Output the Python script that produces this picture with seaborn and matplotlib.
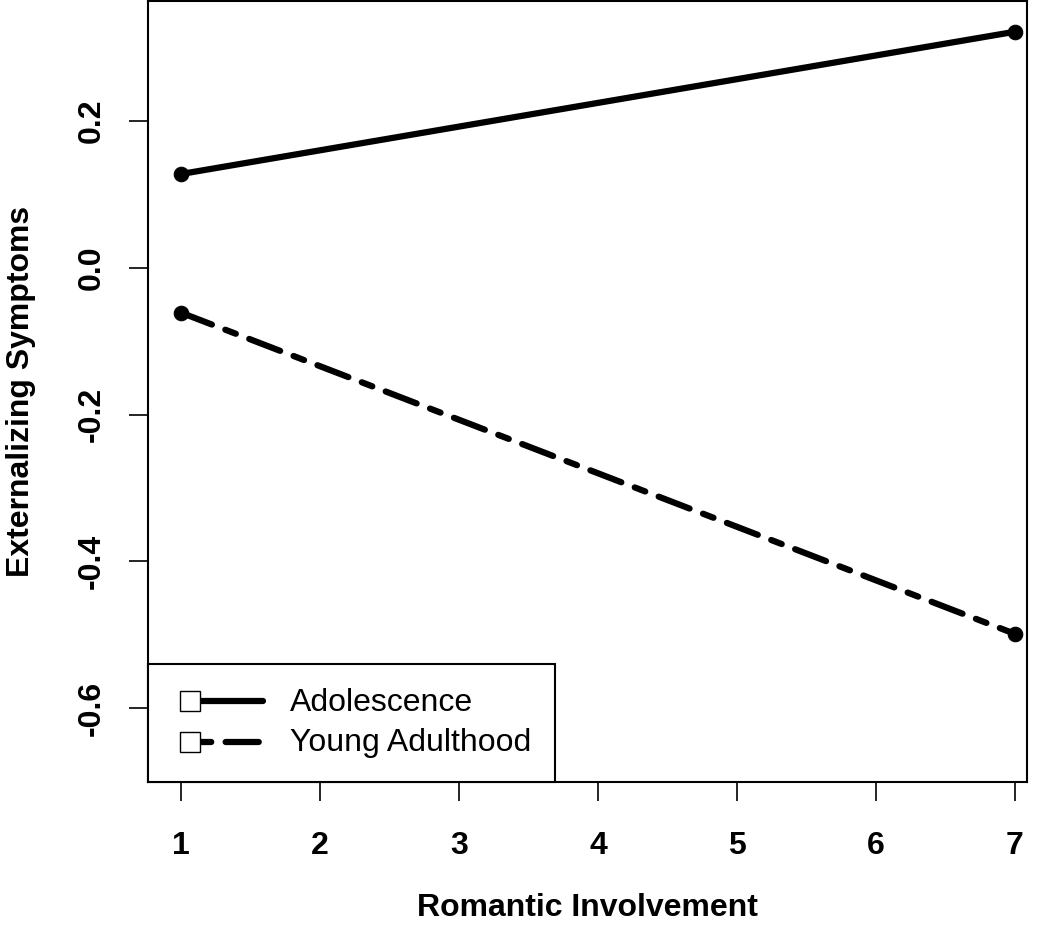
import pandas as pd
import matplotlib
matplotlib.use("Agg")
import matplotlib.pyplot as plt
import seaborn as sns
from matplotlib.lines import Line2D
from matplotlib.legend_handler import HandlerBase

# Data
involvement = [1, 7]
adolescence = [0.128, 0.322]
young_adulthood = [-0.061, -0.499]
groups = ["Adolescence", "Young Adulthood"]
x_ticks = [1, 2, 3, 4, 5, 6, 7]
y_ticks = [-0.6, -0.4, -0.2, 0.0, 0.2]

df = pd.DataFrame({
    "involvement": involvement * 2,
    "symptoms": adolescence + young_adulthood,
    "period": [groups[0]] * 2 + [groups[1]] * 2,
})

sns.set_theme(style="ticks")
plt.rcParams["font.family"] = ["Liberation Sans", "DejaVu Sans"]
plt.rcParams["axes.unicode_minus"] = False
plt.rcParams["text.color"] = "black"
plt.rcParams["axes.labelcolor"] = "black"
plt.rcParams["xtick.color"] = "black"
plt.rcParams["ytick.color"] = "black"

fig = plt.figure(figsize=(10.5, 9.35), dpi=100)
ax = fig.add_axes([0.141, 0.1636, 0.837, 0.835])

dash_pat = (5.3, 2.3, 1.8, 2.3)
sns.lineplot(data=df, x="involvement", y="symptoms", style="period",
             markers={groups[0]: "o", groups[1]: "o"},
             dashes={groups[0]: "", groups[1]: dash_pat},
             color="black", lw=4.5, ms=10.5, mec="black", legend=False, ax=ax)
for ln in ax.lines:
    ln.set_dash_capstyle("round")
    ln.set_solid_capstyle("round")

ax.set_xlim(0.763, 7.086)
ax.set_ylim(-0.701, 0.3635)
ax.set_xticks(x_ticks)
ax.set_xticklabels([str(v) for v in x_ticks], fontsize=23, fontweight="bold")
ax.set_yticks(y_ticks)
ax.set_yticklabels([f"{v:.1f}" for v in y_ticks], fontsize=23, fontweight="bold",
                   rotation=90, va="center")
ax.tick_params(axis="both", direction="out", length=14, width=1.2, color="black")
ax.tick_params(axis="x", pad=21)
ax.tick_params(axis="y", pad=16)
ax.set_xlabel("Romantic Involvement", fontsize=23, fontweight="bold", labelpad=23)
ax.set_ylabel("Externalizing Symptoms", fontsize=23, fontweight="bold", labelpad=29)
for sp in ax.spines.values():
    sp.set_color("black")
    sp.set_linewidth(1.5)
    sp.set_visible(True)


class SquareLineHandler(HandlerBase):
    def create_artists(self, legend, orig_handle, xdescent, ydescent,
                       width, height, fontsize, trans):
        y = height / 2 - ydescent - 1.5
        off = 8 * 72 / 100
        sq = 20 * 72 / 100
        x0 = -xdescent + off
        line = Line2D([x0 + sq, width - xdescent], [y, y], color="black",
                      lw=orig_handle.get_linewidth(),
                      linestyle=orig_handle.get_linestyle(),
                      dash_capstyle="round", solid_capstyle="round")
        if orig_handle.get_linestyle() != "-":
            line.set_dashes((1.8, 2.3, 5.3, 2.3))
        mark = Line2D([x0 + sq / 2], [y], marker="s", ms=sq, mfc="white",
                      mec="black", mew=1.0, linestyle="none")
        line.set_transform(trans)
        mark.set_transform(trans)
        return [line, mark]


handles = list(ax.lines[:2])
leg = ax.legend(handles, groups, loc="lower left", bbox_to_anchor=(0, 0),
                borderaxespad=0, fontsize=23, frameon=True, fancybox=False,
                framealpha=1, edgecolor="black", borderpad=0.75,
                handlelength=2.85, handletextpad=0.85, labelspacing=0.33,
                handler_map={Line2D: SquareLineHandler()})
leg.get_frame().set_linewidth(1.5)

fig.savefig("out.png", dpi=100, facecolor="white")
